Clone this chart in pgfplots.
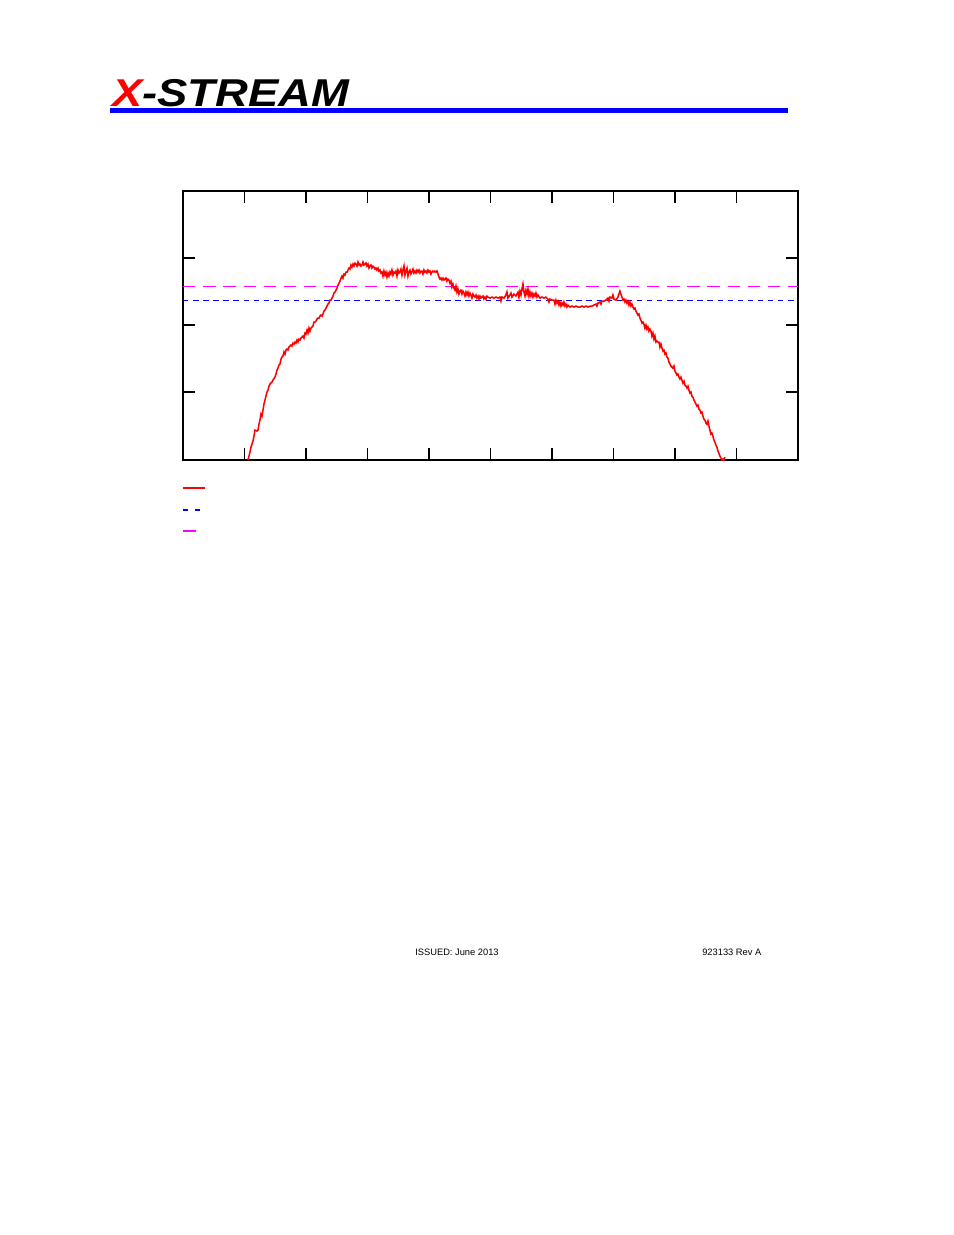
\documentclass[border=0pt]{standalone}
\usepackage{pgfplots}
\pgfplotsset{compat=1.18}
\usepackage{fontspec}
\setmainfont{Liberation Sans}
\definecolor{scopemag}{RGB}{255,0,255}
\definecolor{scopeblue}{RGB}{0,0,255}
\definecolor{scopered}{RGB}{255,0,0}

% trace, in page pixels (x right, y down)
\pgfplotstableread{
px py
248 460
249 456
250 452
251 447
253 441
254 436
255 430
257 431
258 430
259 424
260 420
261 414
262 416
263 410
264 404
265 400
266 396
267 392
268 390
269 386
270 384
272 382
273 380
275 377
276 374
277 370
278 368
279 365
280 364
281 359
282 357
283 356
284 352
285 354
286 350
287 349
288 350
289 347
290 346
291 345
292 346
293 343
294 344
295 342
296 343
297 340
298 342
299 339
300 340
301 338
302 337
303 336
304 338
305 333
306 334
307 330
308 333
309 328
310 331
311 328
312 327
313 326
314 322
315 322
316 321
317 319
318 318
319 318
320 316
321 315
322 316
323 314
324 311
325 310
326 308
327 306
328 304
329 303
330 300
331 300
332 298
333 296
334 293
335 292
336 290
337 288
338 285
339 283
340 281
341 278
342 276
343 278
344 274
345 275
346 272
347 272
348 270
349 268
350 269
351 265
352 267
353 264
354 266
355 263
356 264
357 266
358 262
359 265
360 264
361 266
362 265
363 262
364 265
365 264
366 263
367 266
368 264
369 268
370 266
371 265
372 268
373 266
374 267
375 269
376 268
377 270
378 268
379 271
380 270
381 273
382 272
383 276
384 271
385 275
386 272
387 277
388 273
389 276
390 272
391 274
392 270
393 275
394 272
395 273
396 271
397 276
398 270
399 273
400 272
401 269
402 275
403 270
404 266
405 275
406 271
407 268
408 276
409 272
410 270
411 274
412 272
413 269
414 273
415 271
416 273
417 270
418 272
419 270
420 273
421 271
422 271
423 274
424 270
425 272
426 271
427 273
428 270
429 272
430 271
431 274
432 272
433 271
434 272
435 271
436 272
437 271
438 274
439 277
440 279
441 278
442 280
443 278
444 280
445 279
446 278
447 281
448 279
449 280
450 283
451 281
452 287
453 284
454 288
455 290
456 286
457 292
458 289
459 294
460 291
461 290
462 294
463 291
464 293
465 296
466 292
467 295
468 292
469 296
470 293
471 295
472 298
473 294
474 296
475 297
476 295
477 298
478 296
479 299
480 296
481 298
482 297
483 296
484 299
485 297
486 299
487 296
488 297
490 298
492 297
494 298
496 297
498 298
500 297
501 301
502 297
504 298
506 295
507 292
508 298
510 295
511 293
512 297
514 294
516 296
518 292
519 297
520 291
521 295
522 289
523 284
524 292
525 296
526 290
527 294
528 289
529 296
530 292
531 296
532 293
533 297
534 294
535 296
536 293
537 297
538 295
540 298
542 297
544 298
546 297
548 299
549 302
550 299
552 300
554 300
555 304
556 300
557 303
558 301
559 305
560 302
561 306
562 303
563 305
564 302
565 306
566 304
567 307
568 305
570 307
572 306
574 307
576 306
578 307
580 307
582 306
584 307
586 306
588 307
590 306
592 306
594 305
596 304
597 306
598 303
600 302
601 304
602 301
604 301
606 300
608 298
609 301
610 297
612 298
613 295
614 299
616 300
618 297
619 294
620 291
621 294
622 297
623 300
624 299
625 302
626 300
627 303
628 301
629 305
630 302
631 306
632 304
633 307
634 309
635 308
636 311
637 313
638 315
639 314
640 318
641 320
642 323
643 322
644 324
645 328
646 325
647 329
648 327
649 331
650 329
651 331
652 336
653 333
654 339
655 336
656 342
657 341
658 342
659 342
660 347
661 344
662 348
663 351
664 350
665 354
666 353
667 357
668 358
669 362
670 364
671 366
672 367
673 368
674 366
675 371
676 373
677 375
678 374
679 377
680 379
681 377
682 380
683 383
684 381
685 385
686 386
687 388
688 386
689 390
690 393
691 392
692 396
693 397
694 400
695 402
696 404
697 406
698 405
699 409
700 410
701 413
702 412
703 416
704 419
705 420
706 423
707 424
708 421
709 426
710 430
711 434
712 433
713 436
714 440
715 442
716 445
717 447
718 451
719 453
720 456
721 458
722 460
723 459
724 460
725 457
}\trace

\begin{document}
\begin{tikzpicture}[x=0.64446pt, y=-0.64446pt]
\path[use as bounding box] (0,0) rectangle (954,1235);

% header
\node[anchor=base west, inner sep=0] at (112,106)
  {\scalebox{1.17}[1]{\fontsize{25}{25}\selectfont\bfseries\itshape\textcolor{scopered}{X}-STREAM}};
\fill[scopeblue] (110,108) rectangle (788,112.5);

\begin{axis}[
    at={(490.5,325.5)}, anchor=center,
    scale only axis,
    width=396.3pt, height=173.4pt,
    xmin=183, xmax=798,
    ymin=191, ymax=460,
    y dir=reverse,
    xtick={244.5,306,367.5,429,490.5,552,613.5,675,736.5},
    ytick={258,325,392},
    xticklabels={}, yticklabels={},
    tick align=inside,
    major tick length=7.5pt,
    tick style={black, line width=0.9pt},
    axis line style={black, line width=1.4pt},
]
\addplot[scopemag, line width=0.7pt, dash pattern=on 8pt off 5pt] coordinates {(183,286) (798,286)};
\addplot[scopeblue, line width=0.7pt, dash pattern=on 3.5pt off 3pt] coordinates {(183,300) (798,300)};
\addplot[scopered, line width=1pt] table[x=px, y=py] {\trace};
\end{axis}

% legend samples (no text)
\draw[scopered, line width=0.9pt] (183,488) -- (205,488);
\draw[scopeblue, line width=0.9pt] (183,510) -- (188,510) (195,510) -- (200,510);
\draw[scopemag, line width=0.9pt] (183,531) -- (196,531);

% footer
\node[anchor=base west, inner sep=0, font=\fontsize{6}{7}\selectfont] at (415,955) {ISSUED: June 2013};
\node[anchor=base west, inner sep=0, font=\fontsize{6}{7}\selectfont] at (702,955) {923133 Rev A};
\end{tikzpicture}
\end{document}
